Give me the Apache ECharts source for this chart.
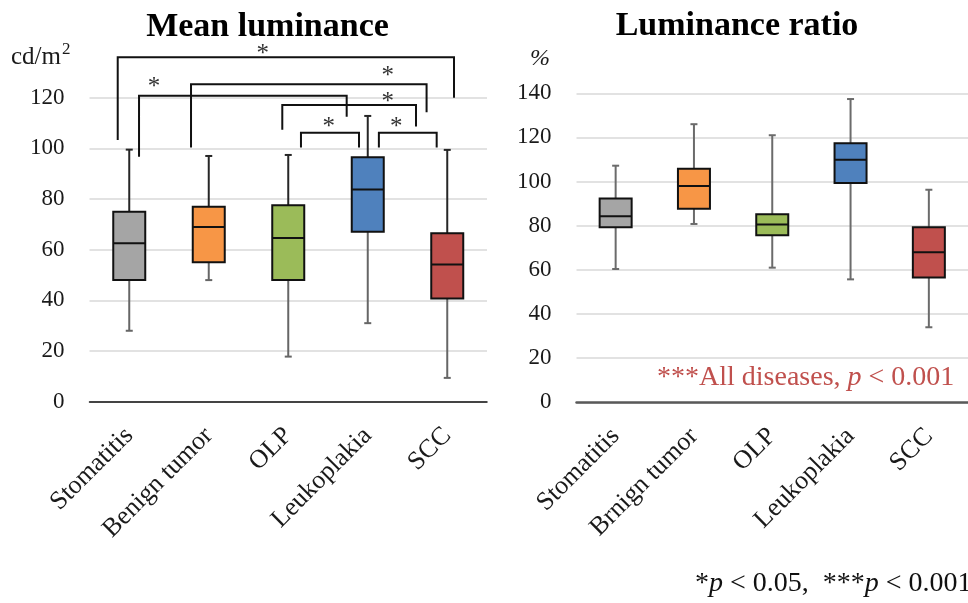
<!DOCTYPE html>
<html>
<head>
<meta charset="utf-8">
<script src="https://cdn.jsdelivr.net/npm/echarts@6/dist/echarts.min.js"></script>
<style>
html,body{margin:0;padding:0;background:#fff;}
#chart{width:968px;height:603px;}
</style>
</head>
<body>
<div id="chart"></div>
<script>
// ---------- data ----------
const categoriesLeft = ['Stomatitis', 'Benign tumor', 'OLP', 'Leukoplakia', 'SCC'];
const categoriesRight = ['Stomatitis', 'Brnign tumor', 'OLP', 'Leukoplakia', 'SCC'];
// [min, Q1, median, Q3, max]
const meanLuminance = [
  [28.0, 48.0, 62.5, 75.0, 99.5],
  [48.0, 55.0, 69.0, 77.0, 97.0],
  [17.8, 48.0, 64.6, 77.5, 97.4],
  [31.0, 67.1, 83.8, 96.5, 112.8],
  [9.4, 40.7, 54.2, 66.5, 99.4]
];
const luminanceRatio = [
  [60.4, 79.3, 84.3, 92.3, 107.2],
  [80.8, 87.7, 98.0, 105.8, 126.0],
  [61.0, 75.7, 80.6, 85.2, 121.0],
  [55.7, 99.4, 109.9, 117.4, 137.4],
  [34.0, 56.6, 68.0, 79.3, 96.3]
];
// significance brackets (category-index units, cd/m2 units):
// [xLeft, xRight, yLeftEnd, yTop, yRightEnd, starX, starY]
const significanceBrackets = [
  [-0.145, 4.085, 103.3, 136.0, 120.0, 1.68, 139.6],
  [0.123, 2.735, 96.7, 120.8, 112.5, 0.31, 126.3],
  [0.777, 3.740, 100.3, 125.3, 114.3, 3.25, 130.6],
  [1.925, 3.607, 107.3, 117.1, 108.6, 3.25, 120.4],
  [2.160, 2.890, 100.3, 106.2, 100.3, 2.51, 110.5],
  [3.140, 3.867, 100.3, 106.2, 100.3, 3.36, 110.5]
];
const leftAxisRange = [0, 120, 20];
const rightAxisRange = [0, 140, 20];

// ---------- styles ----------
const boxColors = ['#A5A5A5', '#F79646', '#9BBB59', '#4F81BD', '#C0504D'];
const FONT = '"Liberation Serif", "Times New Roman", serif';

function makeBoxRender(upperWhiskerColor, lowerWhiskerColor) {
  return function (params, api) {
    const i = api.value(0);
    const vMin = api.value(1), q1 = api.value(2), med = api.value(3), q3 = api.value(4), vMax = api.value(5);
    const x = api.coord([i, 0])[0];
    const y = v => api.coord([i, v])[1];
    const half = 16, cap = 3.5;
    const color = boxColors[params.dataIndex];
    const line = (x1, y1, x2, y2, stroke, w) => ({
      type: 'line', shape: {x1, y1, x2, y2}, style: {stroke, lineWidth: w}
    });
    return {
      type: 'group',
      children: [
        line(x, y(vMax), x, y(q3), upperWhiskerColor, 2),
        line(x - cap, y(vMax), x + cap, y(vMax), upperWhiskerColor, 2),
        line(x, y(q1), x, y(vMin), lowerWhiskerColor, 2),
        line(x - cap, y(vMin), x + cap, y(vMin), lowerWhiskerColor, 2),
        {
          type: 'rect',
          shape: {x: x - half, y: y(q3), width: 2 * half, height: y(q1) - y(q3)},
          style: {fill: color, stroke: '#111', lineWidth: 2}
        },
        line(x - half, y(med), x + half, y(med), '#111', 2)
      ]
    };
  };
}

function bracketRender(params, api) {
  const p = (a, b) => api.coord([a, b]);
  const a = p(api.value(0), api.value(2));
  const b = p(api.value(0), api.value(3));
  const c = p(api.value(1), api.value(3));
  const d = p(api.value(1), api.value(4));
  const s = p(api.value(5), api.value(6));
  return {
    type: 'group',
    children: [
      {type: 'polyline', shape: {points: [a, b, c, d]}, style: {stroke: '#111', lineWidth: 2, fill: null}},
      {type: 'text', x: s[0], y: s[1] + 6, style: {text: '*', font: '25px ' + FONT, fill: '#333', align: 'center', verticalAlign: 'middle'}}
    ]
  };
}

const axisLabelX = {rotate: 45, interval: 0, fontSize: 26, fontFamily: FONT, color: '#1a1a1a', margin: 30};
const axisLabelY = {fontSize: 23, fontFamily: FONT, color: '#1a1a1a', margin: 25};
const splitLine = {show: true, lineStyle: {color: '#D9D9D9', width: 1.5}};

const chart = echarts.init(document.getElementById('chart'), null, {renderer: 'canvas'});
chart.setOption({
  animation: false,
  backgroundColor: '#fff',
  grid: [
    {left: 89.5, top: 97.7, width: 397.5, height: 304},
    {left: 576.5, top: 93.3, width: 396.5, height: 309}
  ],
  xAxis: [
    {type: 'category', gridIndex: 0, data: categoriesLeft, axisTick: {show: false},
     axisLine: {lineStyle: {color: '#111', width: 1.5}}, axisLabel: axisLabelX},
    {type: 'value', gridIndex: 0, min: -0.5, max: 4.5, show: false},
    {type: 'category', gridIndex: 1, data: categoriesRight, axisTick: {show: false},
     axisLine: {lineStyle: {color: '#595959', width: 2.5}}, axisLabel: axisLabelX}
  ],
  yAxis: [
    {type: 'value', gridIndex: 0, min: leftAxisRange[0], max: leftAxisRange[1], interval: leftAxisRange[2],
     axisLine: {show: false}, axisTick: {show: false}, axisLabel: axisLabelY, splitLine},
    {type: 'value', gridIndex: 1, min: rightAxisRange[0], max: rightAxisRange[1], interval: rightAxisRange[2],
     axisLine: {show: false}, axisTick: {show: false}, axisLabel: axisLabelY, splitLine}
  ],
  series: [
    {type: 'custom', xAxisIndex: 0, yAxisIndex: 0, z: 3,
     renderItem: makeBoxRender('#262626', '#666'),
     data: meanLuminance.map((d, i) => [i].concat(d))},
    {type: 'custom', xAxisIndex: 1, yAxisIndex: 0, z: 4, clip: false,
     renderItem: bracketRender, data: significanceBrackets},
    {type: 'custom', xAxisIndex: 2, yAxisIndex: 1, z: 3,
     renderItem: makeBoxRender('#6b6b6b', '#6b6b6b'),
     data: luminanceRatio.map((d, i) => [i].concat(d))}
  ],
  graphic: [
    {type: 'text', x: 267.5, y: 27, style: {text: 'Mean luminance', font: 'bold 34px ' + FONT, fill: '#000', align: 'center', verticalAlign: 'middle'}},
    {type: 'text', x: 737, y: 26, style: {text: 'Luminance ratio', font: 'bold 34px ' + FONT, fill: '#000', align: 'center', verticalAlign: 'middle'}},
    {type: 'text', x: 11, y: 57, style: {text: 'cd/m', font: '25px ' + FONT, fill: '#1a1a1a', align: 'left', verticalAlign: 'middle'}},
    {type: 'text', x: 62, y: 50, style: {text: '2', font: '17px ' + FONT, fill: '#1a1a1a', align: 'left', verticalAlign: 'middle'}},
    {type: 'text', x: 530, y: 59, style: {text: '%', font: 'italic 24px ' + FONT, fill: '#1a1a1a', align: 'left', verticalAlign: 'middle'}},
    {type: 'text', x: 657, y: 378, style: {
      text: '{a|***All diseases, }{p|p}{a| < 0.001}',
      rich: {a: {font: '28px ' + FONT, fill: '#C0504D'}, p: {font: 'italic 28px ' + FONT, fill: '#C0504D'}},
      align: 'left', verticalAlign: 'middle'}},
    {type: 'text', x: 695, y: 584, style: {
      text: '{a|*}{p|p}{a| < 0.05,  ***}{p|p}{a| < 0.001}',
      rich: {a: {font: '28px ' + FONT, fill: '#111'}, p: {font: 'italic 28px ' + FONT, fill: '#111'}},
      align: 'left', verticalAlign: 'middle'}}
  ]
});
</script>
</body>
</html>
